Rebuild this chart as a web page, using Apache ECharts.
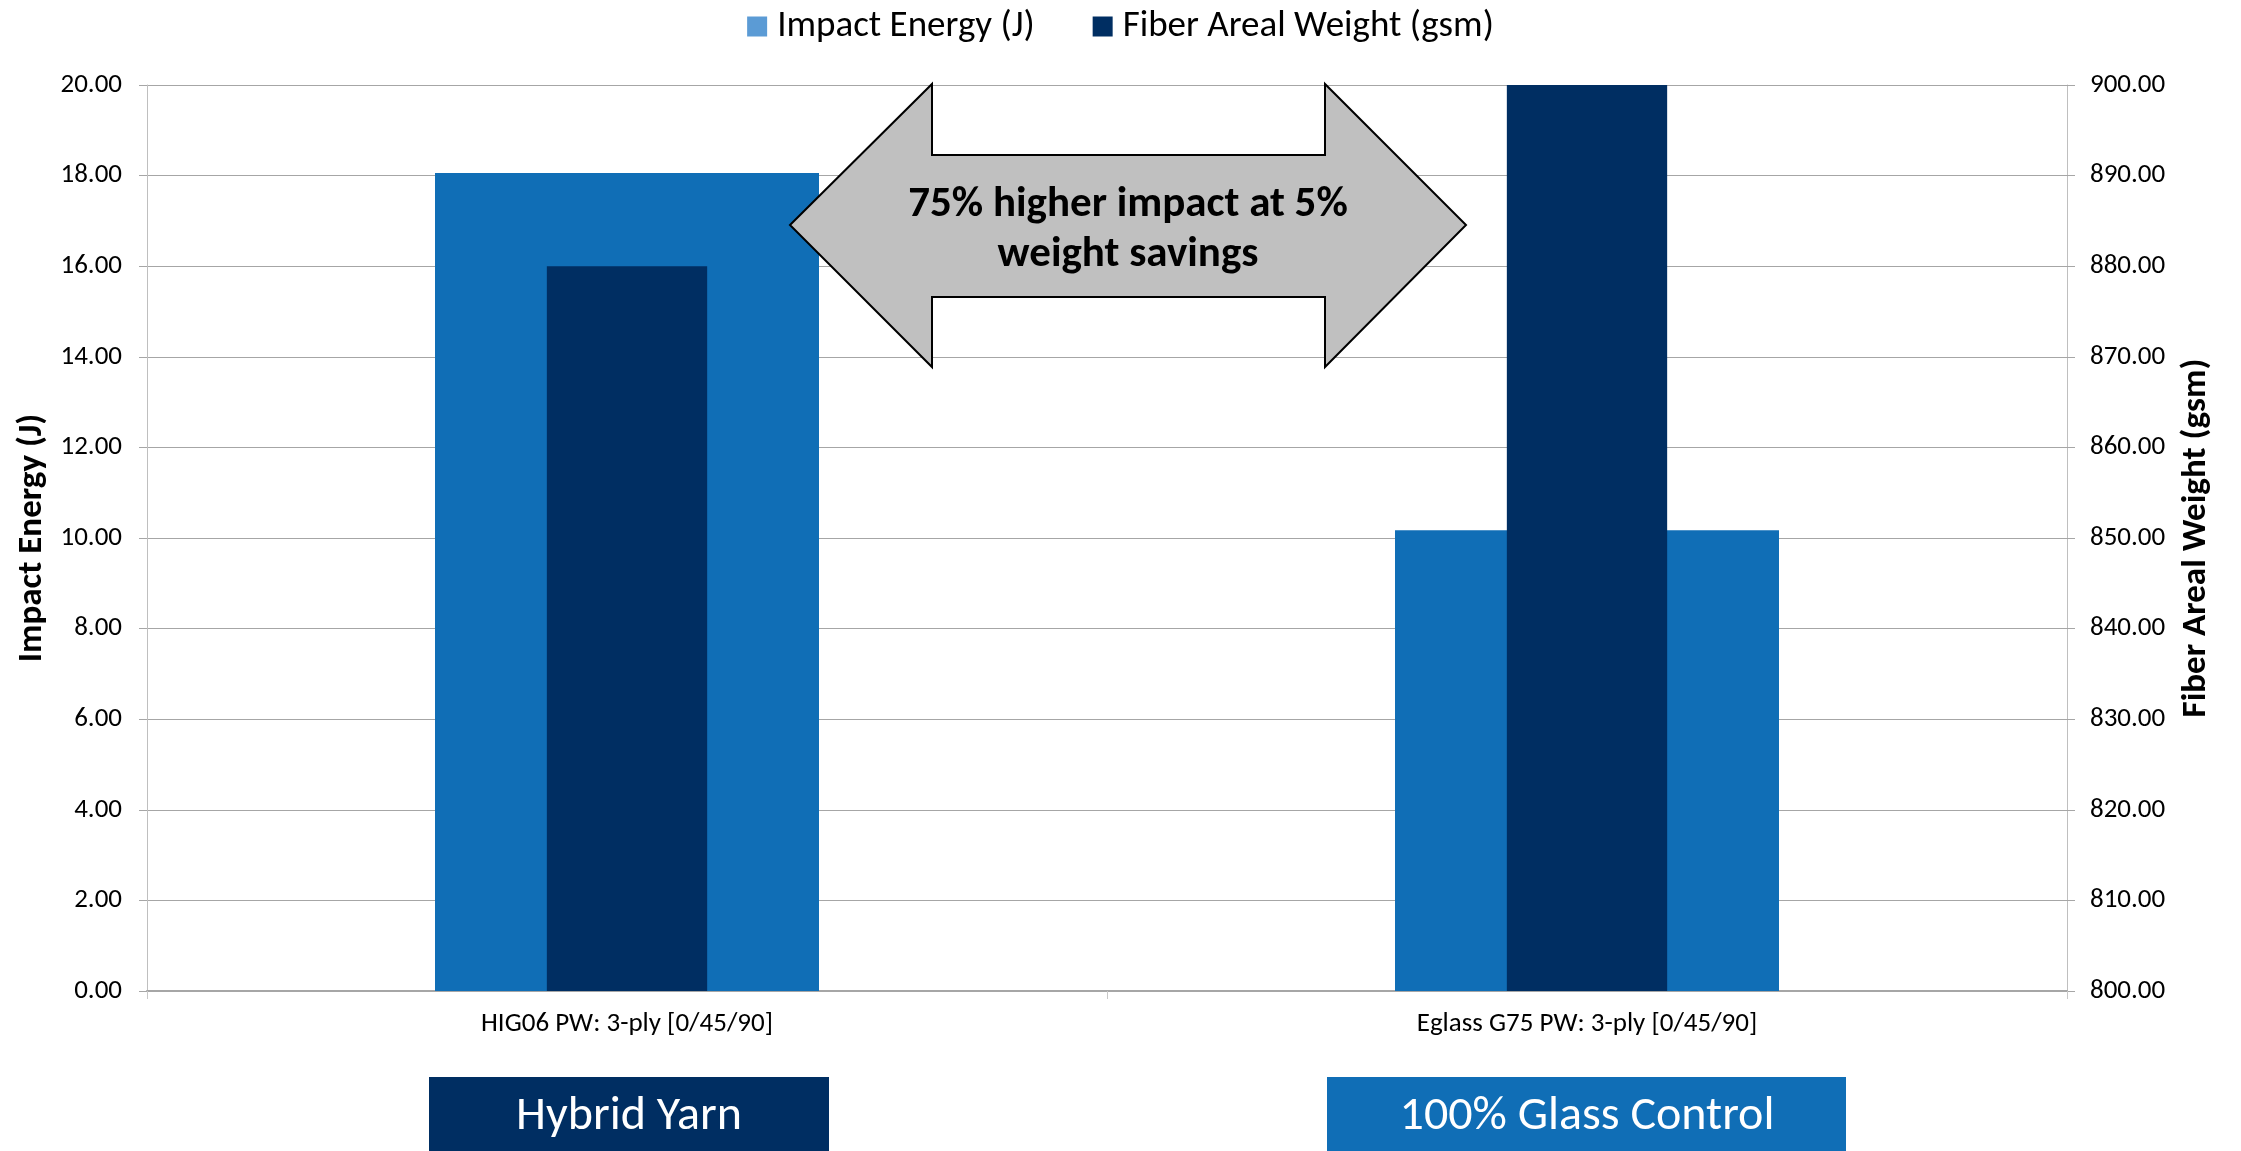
<!DOCTYPE html>
<html>
<head>
<meta charset="utf-8">
<script src="https://cdn.jsdelivr.net/npm/echarts@6/dist/echarts.min.js"></script>
<style>
  html, body { margin: 0; padding: 0; background: #fff; }
  #chart { width: 2241px; height: 1151px; }
</style>
</head>
<body>
<div id="chart"></div>
<script>
// Laminate comparison: impact energy vs. fiber areal weight
var categories = ['HIG06 PW: 3-ply [0/45/90]', 'Eglass G75 PW: 3-ply [0/45/90]'];
var impactEnergy = [18.06, 10.17];      // J
var fiberArealWeight = [880.0, 926.0];  // gsm
var groupLabels = ['Hybrid Yarn', '100% Glass Control'];
var calloutText = '75% higher impact at 5%\nweight savings';

var FONT = 'Carlito, Lato, "Open Sans", sans-serif';
var LIGHT = '#106EB6';
var DARK = '#002E62';
var GRID = '#A6A6A6';

var chart = echarts.init(document.getElementById('chart'), null, { renderer: 'canvas' });

var option = {
  backgroundColor: '#ffffff',
  animation: false,
  textStyle: { fontFamily: FONT, color: '#000' },
  legend: {
    top: 3,
    left: 'center',
    itemWidth: 20,
    itemHeight: 20,
    itemGap: 58,
    icon: 'rect',
    textStyle: { fontFamily: FONT, fontSize: 37, color: '#000', padding: [0, 0, 0, 5] },
    data: [
      { name: 'Impact Energy (J)', itemStyle: { color: '#5B9BD5' } },
      { name: 'Fiber Areal Weight (gsm)', itemStyle: { color: DARK } }
    ]
  },
  grid: { left: 147, right: 174, top: 85, bottom: 160, containLabel: false },
  xAxis: [
    {
      type: 'category',
      data: categories,
      axisLine: { lineStyle: { color: GRID, width: 2 } },
      axisTick: { show: true, length: 8, lineStyle: { color: '#C8C8C8' } },
      axisLabel: { fontFamily: FONT, fontSize: 27, color: '#000', margin: 20 }
    },
    {
      type: 'category',
      data: categories,
      show: false
    }
  ],
  yAxis: [
    {
      type: 'value',
      min: 0, max: 20, interval: 2,
      name: 'Impact Energy (J)',
      nameLocation: 'middle',
      nameGap: 93,
      nameTextStyle: { fontFamily: FONT, fontSize: 35, fontWeight: 'bold', color: '#000' },
      axisLine: { show: true, lineStyle: { color: '#BFBFBF', width: 1 } },
      axisTick: { show: true, length: 8, lineStyle: { color: GRID } },
      axisLabel: { fontFamily: FONT, fontSize: 27, color: '#000', margin: 25,
        formatter: function (v) { return v.toFixed(2); } },
      splitLine: { show: true, lineStyle: { color: GRID, width: 1 } }
    },
    {
      type: 'value',
      min: 800, max: 900, interval: 10,
      name: 'Fiber Areal Weight (gsm)',
      nameLocation: 'middle',
      nameGap: 112,
      nameTextStyle: { fontFamily: FONT, fontSize: 35, fontWeight: 'bold', color: '#000' },
      axisLine: { show: true, lineStyle: { color: '#BFBFBF', width: 1 } },
      axisTick: { show: true, length: 8, lineStyle: { color: GRID } },
      axisLabel: { fontFamily: FONT, fontSize: 27, color: '#000', margin: 23,
        formatter: function (v) { return v.toFixed(2); } },
      splitLine: { show: false }
    }
  ],
  series: [
    {
      name: 'Impact Energy (J)',
      type: 'bar',
      xAxisIndex: 0,
      yAxisIndex: 0,
      barWidth: '40%',
      itemStyle: { color: LIGHT },
      data: impactEnergy,
      z: 2
    },
    {
      name: 'Fiber Areal Weight (gsm)',
      type: 'bar',
      xAxisIndex: 1,
      yAxisIndex: 1,
      barWidth: '16.7%',
      clip: true,
      itemStyle: { color: DARK },
      data: fiberArealWeight,
      z: 3
    }
  ],
  graphic: [
    {
      type: 'polygon',
      z: 100,
      shape: {
        points: [
          [790, 225], [932, 84], [932, 155], [1325, 155], [1325, 84],
          [1466, 225], [1325, 367], [1325, 297], [932, 297], [932, 367]
        ]
      },
      style: { fill: '#C0C0C0', stroke: '#000', lineWidth: 2 }
    },
    {
      type: 'text',
      z: 101,
      x: 1128,
      y: 230,
      style: {
        text: calloutText,
        fill: '#000',
        font: 'bold 43px ' + FONT,
        align: 'center',
        verticalAlign: 'middle',
        lineHeight: 50
      }
    },
    {
      type: 'rect',
      z: 100,
      shape: { x: 429, y: 1077, width: 400, height: 80 },
      style: { fill: DARK }
    },
    {
      type: 'text',
      z: 101,
      x: 629,
      y: 1117,
      style: {
        text: groupLabels[0],
        fill: '#fff',
        font: '48px ' + FONT,
        align: 'center',
        verticalAlign: 'middle'
      }
    },
    {
      type: 'rect',
      z: 100,
      shape: { x: 1327, y: 1077, width: 519, height: 80 },
      style: { fill: LIGHT }
    },
    {
      type: 'text',
      z: 101,
      x: 1587,
      y: 1117,
      style: {
        text: groupLabels[1],
        fill: '#fff',
        font: '48px ' + FONT,
        align: 'center',
        verticalAlign: 'middle'
      }
    }
  ]
};

chart.setOption(option);
</script>
</body>
</html>
